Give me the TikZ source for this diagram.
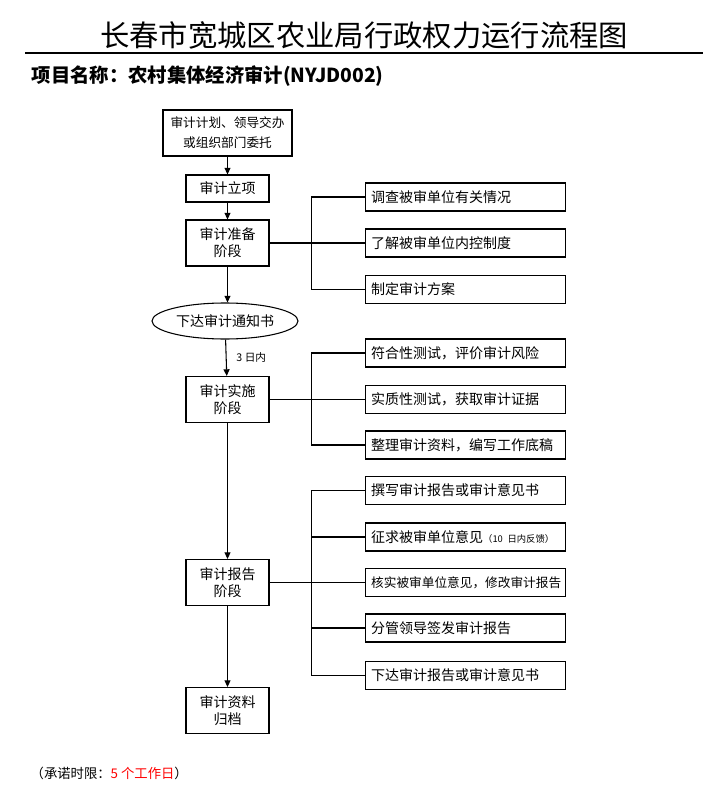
\documentclass[tikz,border=0pt]{standalone}
\usepackage{fontspec}
\setmainfont{Noto Sans CJK SC}
\usetikzlibrary{arrows.meta,shapes.geometric}
\definecolor{promred}{RGB}{255,0,0}
\tikzset{
  px/.style={x=0.75pt,y=-0.75pt},
  mainbox/.style={draw, line width=0.8pt, align=center, minimum width=62.25pt, minimum height=34.5pt, inner sep=1pt, font=\fontsize{10.5}{12.75}\selectfont},
  sidebox/.style={draw, line width=0.8pt, align=left, text width=141.5pt, inner xsep=4.5pt, minimum height=21pt, inner ysep=1pt, font=\fontsize{10.5}{12.75}\selectfont},
  arr/.style={line width=0.8pt, -{Triangle[length=5pt,width=4.5pt]}},
  ln/.style={line width=0.8pt},
}
\begin{document}
\begin{tikzpicture}[px]
\useasboundingbox (0,0) rectangle (716,795);
% title
\node (title) at (364,35) {\fontsize{22}{26}\selectfont 长春市宽城区农业局行政权力运行流程图};
\coordinate (tl) at (25,53);
\coordinate (tr) at (703,53);
\draw[ln] (tl) -- (tr);
\node[anchor=west] (sub) at (27,76) {\fontsize{14.5}{17}\selectfont\bfseries 项目名称：农村集体经济审计(NYJD002)};

% main chain
\node[mainbox, minimum width=96.75pt, font=\fontsize{9.5}{15}\selectfont] (b1) at (227.5,133) {审计计划、领导交办\\或组织部门委托};
\node[mainbox, minimum height=20.25pt] (b2) at (227.5,188.5) {审计立项};
\node[mainbox] (b3) at (227.5,243) {审计准备\\阶段};
\node[draw, ellipse, line width=0.8pt, minimum width=109.5pt, minimum height=27pt, inner sep=0pt, font=\fontsize{10.5}{12.75}\selectfont] (ell) at (225,321) {下达审计通知书};
\node[mainbox] (b4) at (227.5,399.5) {审计实施\\阶段};
\node[mainbox] (b5) at (227.5,582.5) {审计报告\\阶段};
\node[mainbox] (b6) at (227.5,710.5) {审计资料\\归档};

\draw[arr] (b1) -- (b2);
\draw[arr] (b2) -- (b3);
\draw[arr] (b3) -- (b3 |- ell.north);
\draw[arr] (ell) -- node[anchor=west, xshift=4pt, font=\fontsize{8}{9}\selectfont] (lbl3) {3 日内} (b4);
\draw[arr] (b4) -- (b5);
\draw[arr] (b5) -- (b6);

% preparation branch
\node[sidebox] (r11) at (465.5,197) {调查被审单位有关情况};
\node[sidebox] (r12) at (465.5,243) {了解被审单位内控制度};
\node[sidebox] (r13) at (465.5,289.5) {制定审计方案};
\draw[ln] (b3.east) -- (r12.west);
\draw[ln] (r11.west) -- ++(-53,0) |- (r13.west);

% implementation branch
\node[sidebox] (r21) at (465.5,353) {符合性测试，评价审计风险};
\node[sidebox] (r22) at (465.5,399.5) {实质性测试，获取审计证据};
\node[sidebox] (r23) at (465.5,445) {整理审计资料，编写工作底稿};
\draw[ln] (b4.east) -- (r22.west);
\draw[ln] (r21.west) -- ++(-53,0) |- (r23.west);

% report branch
\node[sidebox] (r31) at (465.5,490.5) {撰写审计报告或审计意见书};
\node[sidebox] (r32) at (465.5,537) {征求被审单位意见{\fontsize{7}{9}\selectfont（10 日内反馈）}};
\node[sidebox, font=\fontsize{9.5}{12}\selectfont] (r33) at (465.5,582.5) {核实被审单位意见，修改审计报告};
\node[sidebox] (r34) at (465.5,628) {分管领导签发审计报告};
\node[sidebox] (r35) at (465.5,675.5) {下达审计报告或审计意见书};
\draw[ln] (b5.east) -- (r33.west);
\draw[ln] (r31.west) -- ++(-53,0) |- (r35.west);
\draw[ln] (r32.west) -- ++(-53,0);
\draw[ln] (r34.west) -- ++(-53,0);

% footer
\node[anchor=west, font=\fontsize{10}{12}\selectfont] (foot) at (26,773) {（承诺时限：\textcolor{promred}{5 个工作日}）};
\end{tikzpicture}
\end{document}
